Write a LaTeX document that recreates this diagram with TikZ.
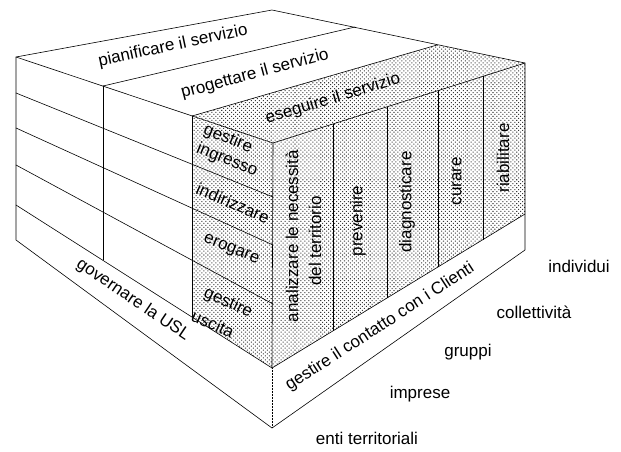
\documentclass[tikz,border=0pt]{standalone}
\usepackage{fontspec}
\setmainfont{Liberation Sans}
\usetikzlibrary{patterns.meta}
\tikzset{
  lbl/.style={font=\fontsize{17}{19}\selectfont, inner sep=0pt},
  edge/.style={line width=0.6pt, line join=round, line cap=round},
  thinedge/.style={line width=0.5pt},
  stip/.style={pattern={Dots[distance=2.8pt,radius=0.72pt,angle=45]}, pattern color=black!78},
}
\begin{document}
\begin{tikzpicture}[x=1pt,y=-1pt]
\useasboundingbox (0,0) rectangle (621,451);
\fill[white] (0,0) rectangle (621,451);
% top face
\coordinate (TL) at (16,57);
\coordinate (TB) at (272,10);
\coordinate (TR) at (525,63);
\coordinate (P1) at (103,86);
\coordinate (P1r) at (355,27);
\coordinate (P2) at (192,116);
\coordinate (P2r) at (437,45);
\coordinate (F) at (273,143);
% left face
\coordinate (BL) at (16,240);
\coordinate (BF) at (272,428);
\coordinate (L1a) at (16,93);   \coordinate (L1b) at (273,197);
\coordinate (L2a) at (16,128);  \coordinate (L2b) at (273,245);
\coordinate (L3a) at (16,165);  \coordinate (L3b) at (273,304);
\coordinate (L4a) at (16,205);
\coordinate (P1b) at (103,260);
\coordinate (P2b) at (192,317);
% front face
\coordinate (SB0) at (272,368);
\coordinate (SB1) at (525,214);
\coordinate (CR) at (525,250);
\coordinate (C1t) at (333,124);   \coordinate (C1b) at (333,331);
\coordinate (C2t) at (387,106.8); \coordinate (C2b) at (387,298);
\coordinate (C3t) at (438,90.6);  \coordinate (C3b) at (438,267);
\coordinate (C4t) at (483,76.3);  \coordinate (C4b) at (483,239.6);

% stippled regions
\fill[stip] (P2) -- (F) -- (TR) -- (P2r) -- cycle;
\fill[stip] (P2) -- (F) -- (SB0) -- (P2b) -- cycle;
\fill[stip] (F) -- (TR) -- (SB1) -- (SB0) -- cycle;

% outlines
\draw[edge] (TL) -- (TB) -- (TR) -- (CR) -- (BF) -- (BL) -- cycle;
\draw[edge] (TL) -- (F) -- (TR);
\draw[edge] (P1) -- (P1r);
\draw[edge] (P2) -- (P2r);
\draw[edge] (P1) -- (P1b);
\draw[edge] (P2) -- (P2b);
\draw[edge] (F) -- (SB0);
\draw[edge] (L1a) -- (L1b);
\draw[edge] (L2a) -- (L2b);
\draw[edge] (L3a) -- (L3b);
\draw[edge] (L4a) -- (SB0) -- (SB1);
\draw[thinedge, densely dotted] (SB0) -- (BF);
\draw[thinedge] (C1t) -- (C1b);
\draw[thinedge] (C2t) -- (C2b);
\draw[thinedge] (C3t) -- (C3b);
\draw[thinedge] (C4t) -- (C4b);

% labels on top
\node[lbl, rotate=12] (pian) at (173,46) {pianificare il servizio};
\node[lbl, rotate=15] (prog) at (255,74) {progettare il servizio};
\node[lbl, rotate=17] (eseg) at (333,99) {eseguire il servizio};
% stippled left column
\node[lbl, rotate=-22] (gi1) at (228,139) {gestire};
\node[lbl, rotate=-22] (gi2) at (227,160) {ingresso};
\node[lbl, rotate=-23] (indi) at (233,203) {indirizzare};
\node[lbl, rotate=-22] (erog) at (231,250) {erogare};
\node[lbl, rotate=-24] (gu1) at (228,303) {gestire};
\node[lbl, rotate=-24] (gu2) at (213,324) {uscita};
% bottom strips
\node[lbl, rotate=-34] (gov) at (133,300) {governare la USL};
\node[lbl, rotate=33] (cont) at (380,327) {gestire il contatto con i Clienti};
% front columns
\node[lbl, rotate=90] (an1) at (292,236) {analizzare le necessità};
\node[lbl, rotate=90] (an2) at (315,241) {del territorio};
\node[lbl, rotate=90] (prev) at (358,221) {prevenire};
\node[lbl, rotate=90] (diag) at (407,202) {diagnosticare};
\node[lbl, rotate=90] (cur) at (457,181) {curare};
\node[lbl, rotate=90] (riab) at (503,158) {riabilitare};
% clients
\node[lbl] (ind) at (579,266) {individui};
\node[lbl] (coll) at (534,312) {collettività};
\node[lbl] (grup) at (468,352) {gruppi};
\node[lbl] (impr) at (420,394) {imprese};
\node[lbl] (enti) at (367,438) {enti territoriali};
\end{tikzpicture}
\end{document}
